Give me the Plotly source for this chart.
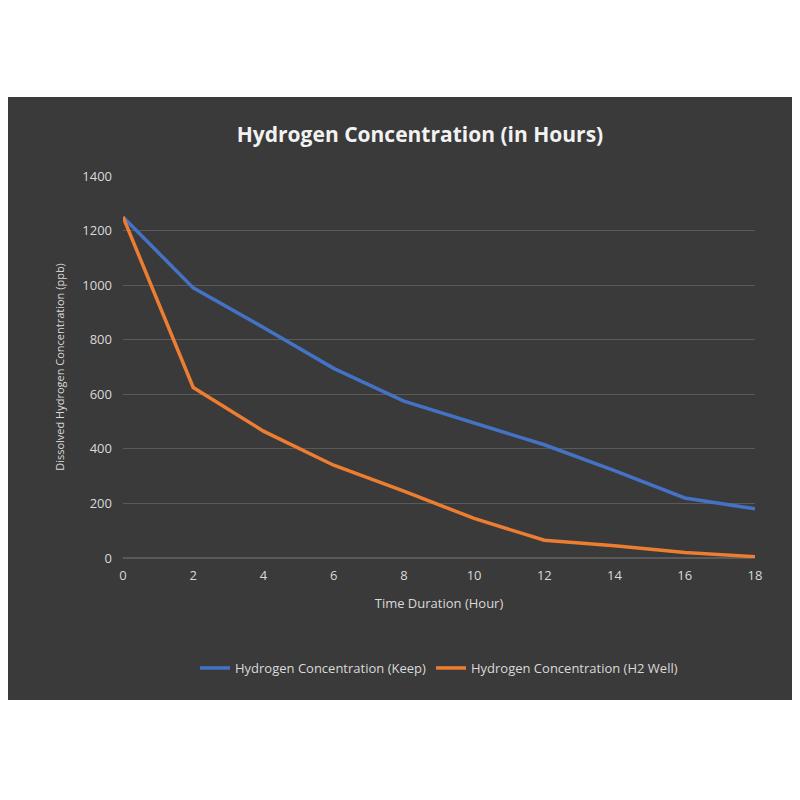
import plotly.graph_objects as go

hours = [0, 2, 4, 6, 8, 10, 12, 14, 16, 18]
keep = [1250, 990, 845, 695, 575, 495, 415, 320, 220, 180]
h2well = [1250, 625, 465, 340, 245, 145, 65, 45, 20, 5]

L, R, T, B = 115, 53, 168, 250
H = 800 - T - B
W = 800 - L - R
def px(p): return (p - 8 - L) / W
def py(p): return (800 - B - (p - 8)) / H

fig = go.Figure()
fig.add_trace(go.Scatter(x=hours, y=keep, mode="lines", name="Hydrogen Concentration (Keep)",
                         line=dict(color="#4472C4", width=3.5)))
fig.add_trace(go.Scatter(x=hours, y=h2well, mode="lines", name="Hydrogen Concentration (H2 Well)",
                         line=dict(color="#ED7D31", width=3.5)))
fig.add_shape(type="rect", xref="paper", yref="paper", x0=px(0), x1=px(808), y0=py(700), y1=py(97),
              fillcolor="#3a3a3a", line=dict(width=0), layer="below")
fig.update_layout(
    width=800, height=800, margin=dict(l=L, r=R, t=T, b=B),
    paper_bgcolor="white", plot_bgcolor="rgba(0,0,0,0)",
    font=dict(family="Open Sans", color="#d9d9d9", size=13),
    title=dict(text="<b>Hydrogen Concentration (in Hours)</b>", x=px(420), xanchor="center", xref="paper",
               y=1 - 127/800, yanchor="middle", font=dict(size=21, color="#f2f2f2")),
    xaxis=dict(range=[0, 18], tickvals=hours, showgrid=False, zeroline=False, showline=False,
               title=dict(text="Time Duration (Hour)", font=dict(size=13)), ticks="",
               ticklabelstandoff=8),
    yaxis=dict(range=[0, 1400], dtick=200, gridcolor="#5a5a5a", zeroline=True, zerolinecolor="#5a5a5a",
               showline=False, ticklabelstandoff=10,
               title=dict(text="Dissolved Hydrogen Concentration (ppb)", font=dict(size=11))),
    legend=dict(orientation="h", x=0.5, xanchor="center", y=py(668), yanchor="middle",
                font=dict(size=13), bgcolor="rgba(0,0,0,0)"),
)
fig.write_html("out.html")
